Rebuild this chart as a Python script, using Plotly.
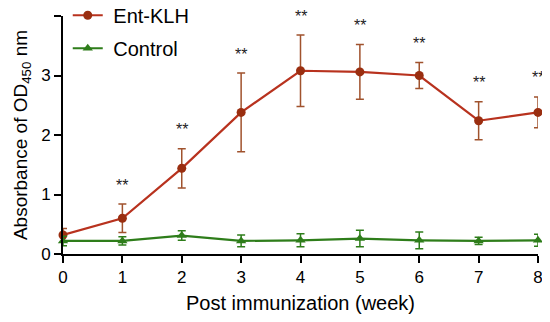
import plotly.graph_objects as go

weeks = [0, 1, 2, 3, 4, 5, 6, 7, 8]
ent_klh = [0.32, 0.60, 1.44, 2.38, 3.08, 3.06, 3.00, 2.24, 2.38]
ent_klh_err = [0.11, 0.24, 0.33, 0.66, 0.60, 0.46, 0.22, 0.32, 0.26]
control = [0.22, 0.22, 0.31, 0.22, 0.23, 0.26, 0.23, 0.22, 0.23]
control_err = [0.08, 0.07, 0.08, 0.10, 0.11, 0.14, 0.14, 0.06, 0.10]
sig_weeks = [1, 2, 3, 4, 5, 6, 7, 8]
sig_labels = ["**"] * 8
x_ticks = [0, 1, 2, 3, 4, 5, 6, 7, 8]
y_ticks = [0, 1, 2, 3, 4]

red = "#B8321E"
green = "#2E7D1A"

fig = go.Figure()
fig.add_trace(go.Scatter(
    x=weeks, y=ent_klh, name="\u00a0Ent-KLH", mode="lines+markers", legendgroup="a",
    line=dict(color=red, width=2.2),
    marker=dict(color="#9A2E10", size=9, symbol="circle"),
    error_y=dict(type="data", array=ent_klh_err, color="#A0522D", thickness=1.5, width=4),
    cliponaxis=False,
))
fig.add_trace(go.Scatter(
    x=weeks, y=control, name="\u00a0Control", mode="lines+markers", legendgroup="b",
    line=dict(color=green, width=2.2),
    marker=dict(color=green, size=9, symbol="triangle-up"),
    error_y=dict(type="data", array=control_err, color=green, thickness=1.5, width=4),
    cliponaxis=False,
))

for w, lab in zip(sig_weeks, sig_labels):
    i = weeks.index(w)
    fig.add_annotation(x=w, y=ent_klh[i] + ent_klh_err[i], text=lab, showarrow=False,
                       yshift=19, font=dict(size=16, color="#222", family="Arial"))

fig.update_layout(
    width=542, height=314,
    margin=dict(l=55, r=12, t=8, b=68, autoexpand=False),
    paper_bgcolor="white", plot_bgcolor="white",
    font=dict(family="Arial", color="black"),
    showlegend=True,
    legend=dict(x=0.01, y=1.085, xanchor="left", yanchor="top", itemwidth=30,
                font=dict(size=20), bgcolor="rgba(0,0,0,0)", tracegroupgap=4),
)
fig.update_xaxes(range=[0, 8], tickvals=x_ticks, showline=True, linecolor="black", linewidth=2,
                 ticks="outside", ticklen=7, tickwidth=2, tickcolor="black", showgrid=False,
                 zeroline=False, tickfont=dict(size=17), automargin=False,
                 title=dict(text="Post immunization (week)", font=dict(size=20), standoff=10))
fig.update_yaxes(range=[0, 4], tickvals=y_ticks, showline=True, linecolor="black", linewidth=2,
                 ticks="outside", ticklen=7, tickwidth=2, tickcolor="black", showgrid=False,
                 zeroline=False, tickfont=dict(size=17), automargin=False,
                 title=dict(text="Absorbance of OD<sub>450</sub> nm", font=dict(size=19), standoff=8))

fig.write_html("out.html")
